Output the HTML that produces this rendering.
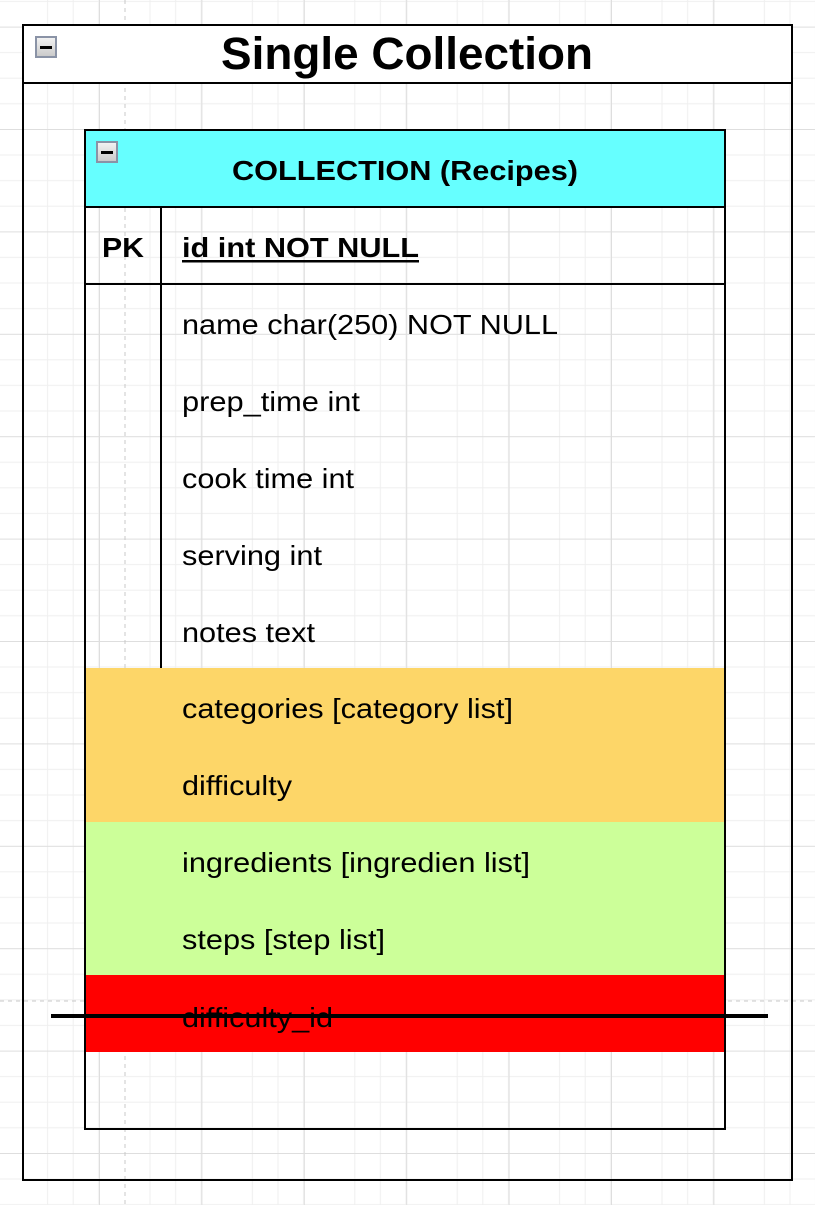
<!DOCTYPE html>
<html><head><meta charset="utf-8"><style>
html,body{margin:0;padding:0;background:#fff;}
svg{display:block;font-family:"Liberation Sans",Arial,sans-serif;}
</style></head><body>
<svg width="815" height="1205" viewBox="0 0 815 1205" xmlns="http://www.w3.org/2000/svg">
<defs>
<pattern id="g" x="22" y="27" width="102.4" height="102.4" patternUnits="userSpaceOnUse">
<path d="M25.6 0V102.4M51.2 0V102.4M76.8 0V102.4M0 25.6H102.4M0 51.2H102.4M0 76.8H102.4" stroke="#efefef" stroke-width="1" fill="none"/>
</pattern>
<pattern id="G" x="-3.4" y="26.6" width="102.4" height="102.4" patternUnits="userSpaceOnUse">
<path d="M0.5 0V102.4M0 0.5H102.4" stroke="#dedede" stroke-width="1" fill="none"/>
</pattern>
<linearGradient id="btn" x1="0" y1="0" x2="0" y2="1"><stop offset="0" stop-color="#f4f4f4"/><stop offset="1" stop-color="#c8c8c8"/></linearGradient>
</defs>
<rect width="815" height="1205" fill="url(#g)"/>
<rect width="815" height="1205" fill="url(#G)"/>
<line x1="125" y1="0" x2="125" y2="1205" stroke="#c8c8c8" stroke-dasharray="4,4"/>
<line x1="0" y1="1001" x2="815" y2="1001" stroke="#c8c8c8" stroke-dasharray="4,4"/>

<rect x="23" y="25" width="769" height="58" fill="#fff"/>
<rect x="23" y="25" width="769" height="1155" fill="none" stroke="#000" stroke-width="2"/>
<line x1="23" y1="83" x2="792" y2="83" stroke="#000" stroke-width="2"/>
<rect x="36" y="37" width="20" height="20" fill="url(#btn)" stroke="#8a93a6" stroke-width="2"/>
<rect x="40" y="46" width="12" height="3" fill="#000"/>
<text x="221" y="69" font-size="45" font-weight="bold" textLength="372" lengthAdjust="spacingAndGlyphs">Single Collection</text>

<rect x="85" y="130" width="640" height="77" fill="#66ffff"/>
<rect x="85" y="668" width="640" height="154" fill="#fdd668"/>
<rect x="85" y="822" width="640" height="153" fill="#ccff99"/>
<rect x="85" y="975" width="640" height="77" fill="#ff0000"/>
<rect x="85" y="130" width="640" height="999" fill="none" stroke="#000" stroke-width="2"/>
<line x1="85" y1="207" x2="725" y2="207" stroke="#000" stroke-width="2"/>
<line x1="85" y1="284" x2="725" y2="284" stroke="#000" stroke-width="2"/>
<line x1="161" y1="207" x2="161" y2="668" stroke="#000" stroke-width="2"/>
<rect x="97" y="142" width="20" height="20" fill="url(#btn)" stroke="#8a93a6" stroke-width="2"/>
<rect x="101" y="151" width="12" height="3" fill="#000"/>
<text x="232" y="180" font-size="28" font-weight="bold" textLength="346" lengthAdjust="spacingAndGlyphs">COLLECTION (Recipes)</text>
<text x="102" y="257" font-size="28" font-weight="bold" textLength="42" lengthAdjust="spacingAndGlyphs">PK</text>
<text x="182" y="257" font-size="28" font-weight="bold" textLength="237" lengthAdjust="spacingAndGlyphs">id int NOT NULL</text>
<rect x="182" y="260" width="237" height="2.5" fill="#000"/>
<g font-size="28" lengthAdjust="spacingAndGlyphs">
<text x="182" y="334" textLength="376" lengthAdjust="spacingAndGlyphs">name char(250) NOT NULL</text>
<text x="182" y="411" textLength="178" lengthAdjust="spacingAndGlyphs">prep_time int</text>
<text x="182" y="488" textLength="172" lengthAdjust="spacingAndGlyphs">cook time int</text>
<text x="182" y="565" textLength="140" lengthAdjust="spacingAndGlyphs">serving int</text>
<text x="182" y="642" textLength="133" lengthAdjust="spacingAndGlyphs">notes text</text>
<text x="182" y="718" textLength="331" lengthAdjust="spacingAndGlyphs">categories [category list]</text>
<text x="182" y="795" textLength="110" lengthAdjust="spacingAndGlyphs">difficulty</text>
<text x="182" y="872" textLength="348" lengthAdjust="spacingAndGlyphs">ingredients [ingredien list]</text>
<text x="182" y="949" textLength="203" lengthAdjust="spacingAndGlyphs">steps [step list]</text>
<text x="182" y="1027" textLength="151" lengthAdjust="spacingAndGlyphs">difficulty_id</text>
</g>
<line x1="51" y1="1016" x2="768" y2="1016" stroke="#000" stroke-width="4"/>
</svg>
</body></html>
